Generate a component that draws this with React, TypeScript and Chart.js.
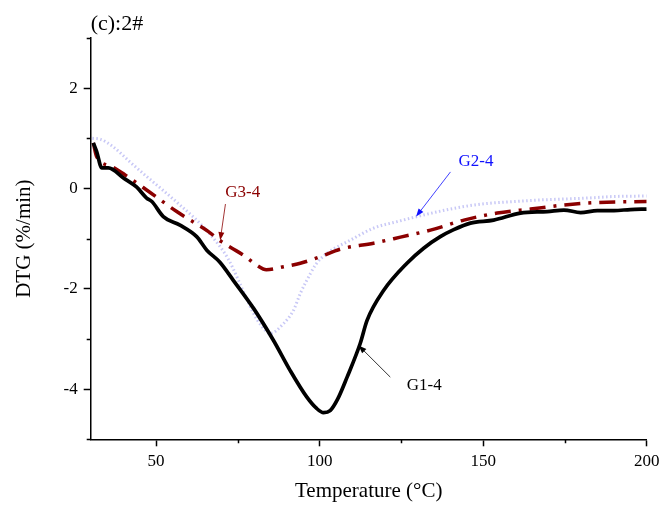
import React, { useEffect, useRef } from "react";
import { Chart, registerables } from "chart.js";

Chart.register(...registerables);

// ---------- data ----------
const g1Temp = [30.8, 31.8, 33.4, 35.4, 40, 44, 47.1, 48.7, 52.2, 57.3, 62.4, 65.5, 69.5, 73.6, 79.8, 85.9, 91, 96.1, 99, 101.2, 103.2, 105.5, 108.4, 112.4, 114.5, 119.6, 126.7, 131.8, 136.9, 141, 146.1, 153.2, 161.4, 169.6, 174.7, 179.8, 184.9, 190, 195, 200];
const g1Dtg = [0.91, 0.74, 0.41, 0.41, 0.21, 0.03, -0.19, -0.26, -0.56, -0.73, -0.96, -1.23, -1.47, -1.83, -2.39, -3.03, -3.63, -4.16, -4.38, -4.47, -4.43, -4.2, -3.76, -3.09, -2.63, -2.03, -1.49, -1.19, -0.96, -0.82, -0.69, -0.63, -0.49, -0.46, -0.43, -0.48, -0.44, -0.44, -0.42, -0.41];

const g3Temp = [30.8, 31.8, 36.4, 40.5, 47.1, 56.3, 66, 70, 73.2, 76.7, 80.8, 83.7, 89, 94.1, 100.2, 106.3, 116.5, 124.7, 133.9, 144.1, 154.3, 164.5, 174.7, 184.9, 200];
const g3Dtg = [0.91, 0.64, 0.44, 0.27, -0.03, -0.46, -0.86, -1.06, -1.19, -1.33, -1.53, -1.62, -1.56, -1.49, -1.36, -1.21, -1.09, -0.97, -0.83, -0.63, -0.49, -0.41, -0.33, -0.28, -0.26];

const g2Temp = [30.5, 33, 36.9, 42, 47.1, 52, 57.3, 62.4, 67, 72, 77.7, 79.8, 82, 84.9, 89, 92, 94.1, 95.6, 99, 102.3, 109.4, 116.5, 123.7, 129.8, 137, 144.1, 151, 159.4, 167, 174.7, 182, 190, 200];
const g2Dtg = [1.0, 0.98, 0.83, 0.53, 0.24, -0.03, -0.33, -0.63, -0.95, -1.4, -2.2, -2.49, -2.72, -2.89, -2.69, -2.43, -2.09, -1.89, -1.5, -1.29, -1.03, -0.79, -0.66, -0.56, -0.45, -0.36, -0.3, -0.26, -0.23, -0.21, -0.19, -0.16, -0.15];

const xMajorTicks = [50, 100, 150, 200];
const xMinorTicks = [75, 125, 175];
const yMajorTicks = [-4, -2, 0, 2];
const yMinorTicks = [-5, -3, -1, 1, 3];

const annLabels = ["G3-4", "G2-4", "G1-4"];
const annColors = ["#8B0000", "#1010ff", "#000000"];
const annTextT = [76.5, 147.8, 132];
const annTextV = [-0.09, 0.53, -3.93];
const annFromT = [71.2, 140.0, 121.6];
const annFromV = [-0.31, 0.33, -3.76];
const annToT = [69.6, 129.5, 111.9];
const annToV = [-1.03, -0.56, -3.13];

const chartTitle = "(c):2#";
const xTitle = "Temperature (°C)";
const yTitle = "DTG (%/min)";

const SERIF = "'Liberation Serif', 'Times New Roman', serif";

const toPoints = (xs: number[], ys: number[]) => xs.map((x, i) => ({ x, y: ys[i] }));

function drawArrow(ctx: CanvasRenderingContext2D, x1: number, y1: number, x2: number, y2: number, color: string) {
  const ang = Math.atan2(y2 - y1, x2 - x1);
  const hl = 8, hw = 3;
  ctx.save();
  ctx.strokeStyle = color;
  ctx.fillStyle = color;
  ctx.lineWidth = 0.8;
  ctx.beginPath();
  ctx.moveTo(x1, y1);
  ctx.lineTo(x2 - Math.cos(ang) * hl * 0.8, y2 - Math.sin(ang) * hl * 0.8);
  ctx.stroke();
  ctx.beginPath();
  ctx.moveTo(x2, y2);
  ctx.lineTo(x2 - Math.cos(ang) * hl - Math.sin(ang) * hw, y2 - Math.sin(ang) * hl + Math.cos(ang) * hw);
  ctx.lineTo(x2 - Math.cos(ang) * hl + Math.sin(ang) * hw, y2 - Math.sin(ang) * hl - Math.cos(ang) * hw);
  ctx.closePath();
  ctx.fill();
  ctx.restore();
}

const decorPlugin = {
  id: "decor",
  afterDraw(chart: any) {
    const { ctx, chartArea, scales } = chart;
    const xs = scales.x, ys = scales.y;
    ctx.save();
    // minor ticks
    ctx.strokeStyle = "#000";
    ctx.lineWidth = 1.5;
    ctx.beginPath();
    xMinorTicks.forEach((t) => {
      const px = Math.round(xs.getPixelForValue(t)) + 0.5;
      ctx.moveTo(px, chartArea.bottom);
      ctx.lineTo(px, chartArea.bottom + 4);
    });
    yMinorTicks.forEach((t) => {
      const py = Math.round(ys.getPixelForValue(t)) + 0.5;
      ctx.moveTo(chartArea.left, py);
      ctx.lineTo(chartArea.left - 4, py);
    });
    ctx.stroke();
    // chart title
    ctx.fillStyle = "#000";
    ctx.font = `22px ${SERIF}`;
    ctx.textAlign = "left";
    ctx.textBaseline = "middle";
    ctx.fillText(chartTitle, chartArea.left, 24);
    // annotations
    ctx.font = `17px ${SERIF}`;
    ctx.textAlign = "center";
    annLabels.forEach((lab, i) => {
      ctx.fillStyle = annColors[i];
      ctx.fillText(lab, xs.getPixelForValue(annTextT[i]), ys.getPixelForValue(annTextV[i]));
      drawArrow(
        ctx,
        xs.getPixelForValue(annFromT[i]),
        ys.getPixelForValue(annFromV[i]),
        xs.getPixelForValue(annToT[i]),
        ys.getPixelForValue(annToV[i]),
        annColors[i]
      );
    });
    ctx.restore();
  },
};

export default function App() {
  const canvasRef = useRef<HTMLCanvasElement | null>(null);

  useEffect(() => {
    document.body.style.margin = "0";
    const canvas = canvasRef.current;
    if (!canvas) return;
    const chart = new Chart(canvas, {
      type: "line",
      data: {
        datasets: [
          {
            label: "G1-4",
            data: toPoints(g1Temp, g1Dtg),
            borderColor: "#000000",
            borderWidth: 3.7,
            pointRadius: 0,
            cubicInterpolationMode: "monotone",
            order: 0,
          },
          {
            label: "G3-4",
            data: toPoints(g3Temp, g3Dtg),
            borderColor: "#8B0000",
            borderWidth: 3.5,
            borderDash: [16, 8, 3, 8],
            pointRadius: 0,
            cubicInterpolationMode: "monotone",
            order: 1,
          },
          {
            label: "G2-4",
            data: toPoints(g2Temp, g2Dtg),
            borderColor: "#c8c8f6",
            borderWidth: 3,
            borderDash: [1.5, 2.5],
            pointRadius: 0,
            cubicInterpolationMode: "monotone",
            order: 2,
          },
        ],
      },
      options: {
        animation: false,
        responsive: false,
        devicePixelRatio: 1,
        layout: { padding: { top: 38, right: 0, left: 0, bottom: 0 } },
        plugins: {
          legend: { display: false },
          title: { display: false },
          tooltip: { enabled: false },
        },
        scales: {
          x: {
            type: "linear",
            min: 30,
            max: 200,
            afterBuildTicks: (scale: any) => {
              scale.ticks = xMajorTicks.map((v) => ({ value: v }));
            },
            afterFit: (scale: any) => {
              scale.height = 65.7;
              scale.paddingRight = 12.3;
              scale.paddingLeft = 0;
            },
            grid: {
              display: true,
              drawOnChartArea: false,
              drawTicks: true,
              tickLength: 7,
              tickColor: "#000",
              tickWidth: 1.5,
            },
            border: { display: true, color: "#000", width: 1.5 },
            ticks: {
              color: "#000",
              font: { family: SERIF, size: 17 },
              padding: 5,
              maxRotation: 0,
              autoSkip: false,
            },
            title: {
              display: true,
              text: xTitle,
              color: "#000",
              font: { family: SERIF, size: 21 },
              padding: { top: 0, bottom: 1 },
            },
          },
          y: {
            type: "linear",
            min: -5,
            max: 3,
            afterBuildTicks: (scale: any) => {
              scale.ticks = yMajorTicks.map((v) => ({ value: v }));
            },
            afterFit: (scale: any) => {
              scale.width = 90.7;
              scale.paddingTop = 0;
              scale.paddingBottom = 0;
            },
            grid: {
              display: true,
              drawOnChartArea: false,
              drawTicks: true,
              tickLength: 7,
              tickColor: "#000",
              tickWidth: 1.5,
            },
            border: { display: true, color: "#000", width: 1.5 },
            ticks: {
              color: "#000",
              font: { family: SERIF, size: 17 },
              padding: 6,
              autoSkip: false,
            },
            title: {
              display: true,
              text: yTitle,
              color: "#000",
              font: { family: SERIF, size: 21 },
              padding: { top: 12, bottom: 0 },
            },
          },
        },
      },
      plugins: [decorPlugin],
    });
    return () => chart.destroy();
  }, []);

  return (
    <div style={{ position: "absolute", left: 0, top: 0, width: 659, height: 505, background: "#fff" }}>
      <canvas ref={canvasRef} width={659} height={505} />
    </div>
  );
}
